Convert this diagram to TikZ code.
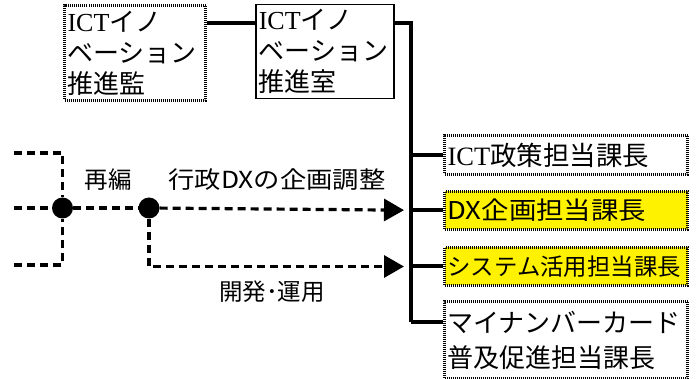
\documentclass[tikz,border=0pt]{standalone}
\usepackage{fontspec}
\setmainfont{Liberation Serif}
\newfontfamily\jp{Noto Sans CJK JP}
\newfontfamily\jpw[FakeStretch=1.12]{Noto Sans CJK JP}
\newfontfamily\jpl[FakeStretch=1.12]{Noto Sans CJK JP}
\usetikzlibrary{arrows.meta}
\begin{document}
\begin{tikzpicture}[x=1pt,y=-1pt,
  box/.style={anchor=north west, inner xsep=3pt, inner ysep=0pt, align=left, text=black,
    font=\jp\fontsize{26}{31}\selectfont},
  dotbox/.style={box, draw=black, line width=3pt, dash pattern=on 1pt off 1pt},
  solbox/.style={box, draw=black, line width=1.5pt},
  hl/.style={fill=yellow},
  sol/.style={line width=4pt},
  dsh/.style={line width=3.2pt, dash pattern=on 8pt off 5pt},
  arr/.style={-{Triangle[length=20pt,width=22pt]}, shorten >=39pt},
  dot/.style={circle, fill=black, inner sep=0pt, minimum size=21pt},
  lab/.style={font=\jp\fontsize{23.5}{26}\selectfont, inner sep=0pt}
]
\useasboundingbox (0,0) rectangle (696,379);
% top boxes
\node[dotbox, text width=135pt, minimum height=95pt] (b1) at (63,4)
  {{\rmfamily ICT}イノ\\ベーション\\推進監};
\node[solbox, text width=132pt, minimum height=94pt] (b2) at (255,4)
  {{\rmfamily ICT}イノ\\ベーション\\推進室};
% right boxes
\node[dotbox, text width=237pt, minimum height=39pt, font=\jp\fontsize{26.5}{31}\selectfont] (b3) at (443,134)
  {{\rmfamily ICT}政策担当課長};
\node[dotbox, hl, text width=237pt, minimum height=38pt, font=\jpw\fontsize{24.5}{31}\selectfont] (b4) at (443,190)
  {DX企画担当課長};
\node[dotbox, hl, text width=237pt, minimum height=38pt, font=\jp\fontsize{23.4}{31}\selectfont] (b5) at (443,246)
  {システム活用担当課長};
\node[dotbox, text width=237pt, minimum height=77pt, font=\jp\fontsize{26}{35}\selectfont] (b6) at (443,300)
  {マイナンバーカード\\普及促進担当課長};
% trunk
\coordinate (j) at (411,23);
\coordinate (m) at (0,322);
\draw[sol] (b1.east |- j) -- (b2.west |- j);
\draw[sol] (b2.east |- j) -- (j) -- (j |- m);
\draw[sol] (j |- b3.west) -- (b3.west);
\draw[sol] (j |- b4.west) -- (b4.west);
\draw[sol] (j |- b5.west) -- (b5.west);
\draw[sol] (j |- m) -- (b6.west |- m);
% dashed network
\node[dot] (p1) at (62.5,208) {};
\node[dot] (p2) at (149,208) {};
\coordinate (s1) at (14,153);
\coordinate (s2) at (14,208);
\coordinate (s3) at (14,265);
\draw[dsh] (s1) -| (p1);
\draw[dsh] (s3) -| (p1);
\draw[dsh] (s2) -- (p1) -- (p2);
\draw[dsh, arr] (p2) -- (b4.west);
\draw[dsh, arr] (p2) |- (b5.west);
% labels
\node[lab] (l1) at (108,180) {再編};
\node[lab, font=\jpl\fontsize{23.5}{26}\selectfont] (l2) at (277,180) {行政DXの企画調整};
\node[lab] (l3) at (272,292) {開発･運用};
\end{tikzpicture}
\end{document}
